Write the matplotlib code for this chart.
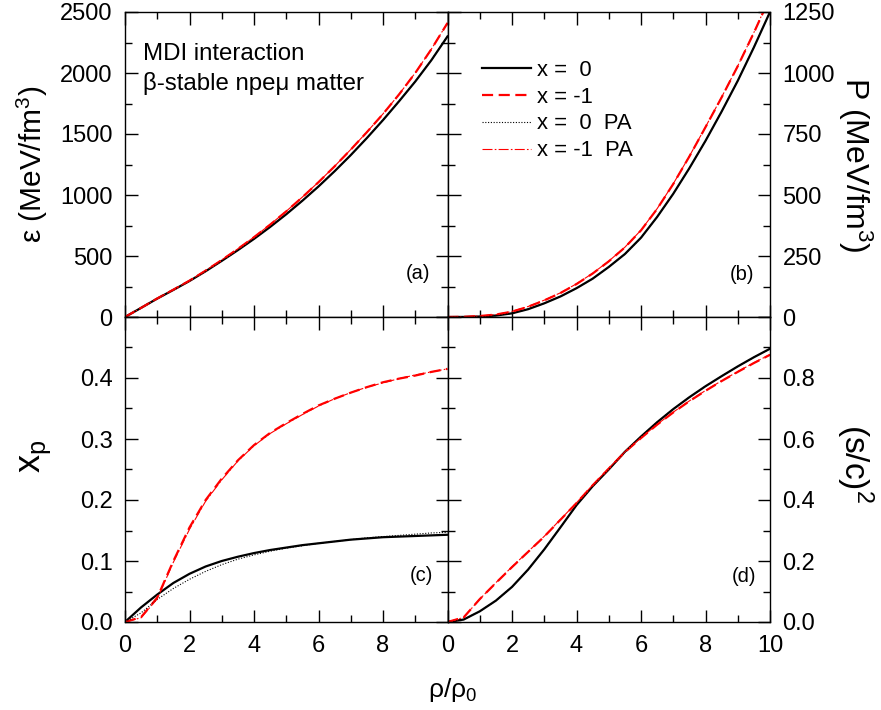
import matplotlib
matplotlib.use('Agg')
import matplotlib.pyplot as plt
from matplotlib.ticker import MultipleLocator

plt.rcParams['font.family'] = ['Liberation Sans', 'DejaVu Sans']
plt.rcParams['mathtext.fontset'] = 'custom'
plt.rcParams['mathtext.rm'] = 'Liberation Sans'
plt.rcParams['mathtext.it'] = 'Liberation Sans:italic'

# density grid rho/rho0
rho = [0, 0.5, 1, 1.5, 2, 2.5, 3, 3.5, 4, 4.5, 5, 5.5, 6, 6.5, 7, 7.5, 8, 8.5, 9, 9.5, 10]

# (a) energy density (MeV/fm^3)
eps_x0 = [0, 75, 151, 222, 295, 375, 460, 548, 640, 738, 842, 953, 1070, 1195, 1327,
          1467, 1614, 1769, 1930, 2105, 2300]
eps_xm1 = [0, 75, 152, 224, 298, 380, 467, 558, 654, 757, 866, 982, 1105, 1235, 1372,
           1515, 1664, 1825, 2000, 2195, 2410]
eps_x0_pa = [0, 75, 151, 222, 295, 375, 460, 548, 641, 739, 843, 954, 1071, 1196, 1328,
             1468, 1615, 1770, 1931, 2106, 2301]
eps_xm1_pa = [0, 75, 152, 224, 298, 381, 468, 559, 655, 758, 867, 983, 1106, 1236, 1373,
              1516, 1665, 1826, 2001, 2196, 2411]

# (b) pressure (MeV/fm^3)
p_x0 = [0, 0.3, 2, 6, 15, 32, 56, 84, 118, 157, 205, 258, 325, 410, 505, 610, 722,
        842, 968, 1105, 1250]
p_xm1 = [0, 0.8, 4, 10, 22, 42, 68, 98, 135, 178, 228, 285, 355, 443, 545, 658, 778,
         900, 1028, 1165, 1310]
p_x0_pa = [0, 0.3, 2, 6, 15, 32, 56, 84, 118, 157, 205, 258, 325, 410, 505, 610, 722,
           842, 969, 1106, 1251]
p_xm1_pa = [0, 0.8, 4, 10, 23, 43, 69, 99, 136, 179, 229, 286, 356, 444, 546, 659, 779,
            901, 1029, 1166, 1311]

# (c) proton fraction
xp_x0 = [0, 0.024, 0.045, 0.064, 0.079, 0.091, 0.1, 0.107, 0.113, 0.118, 0.122, 0.126,
         0.129, 0.132, 0.135, 0.137, 0.139, 0.14, 0.141, 0.142, 0.143]
xp_xm1 = [0, 0.008, 0.04, 0.1, 0.155, 0.2, 0.235, 0.265, 0.29, 0.31, 0.326, 0.341,
          0.355, 0.366, 0.376, 0.385, 0.393, 0.399, 0.404, 0.41, 0.415]
xp_x0_pa = [0, 0.015, 0.037, 0.055, 0.07, 0.083, 0.094, 0.103, 0.11, 0.116, 0.121,
            0.125, 0.129, 0.132, 0.135, 0.138, 0.14, 0.142, 0.144, 0.146, 0.147]
xp_xm1_pa = [0, 0.007, 0.038, 0.098, 0.152, 0.198, 0.233, 0.264, 0.289, 0.309, 0.325,
             0.34, 0.354, 0.366, 0.376, 0.385, 0.392, 0.399, 0.405, 0.41, 0.415]

# (d) squared sound speed
cs2_x0 = [0, 0.008, 0.035, 0.07, 0.115, 0.172, 0.238, 0.31, 0.383, 0.445, 0.5, 0.558,
          0.608, 0.655, 0.698, 0.737, 0.773, 0.806, 0.838, 0.868, 0.896]
cs2_xm1 = [0, 0.015, 0.075, 0.128, 0.18, 0.23, 0.28, 0.335, 0.39, 0.448, 0.503, 0.557,
           0.603, 0.647, 0.687, 0.724, 0.758, 0.79, 0.82, 0.849, 0.876]
cs2_x0_pa = [0, 0.008, 0.035, 0.07, 0.115, 0.172, 0.238, 0.31, 0.383, 0.445, 0.5,
             0.558, 0.608, 0.655, 0.698, 0.737, 0.773, 0.806, 0.838, 0.868, 0.896]
cs2_xm1_pa = [0, 0.015, 0.075, 0.129, 0.181, 0.231, 0.281, 0.336, 0.391, 0.449, 0.504,
              0.558, 0.604, 0.648, 0.688, 0.725, 0.759, 0.791, 0.821, 0.85, 0.877]

labels = ['x =  0', 'x = -1', 'x =  0  PA', 'x = -1  PA']


def draw(ax, a, b, c, d):
    ax.plot(rho, a, color='black', lw=1.6, label=labels[0])
    ax.plot(rho, b, color='red', lw=1.6, dashes=(5, 2.5), label=labels[1])
    ax.plot(rho, c, color='black', lw=0.8, dashes=(1, 1.5), label=labels[2])
    ax.plot(rho, d, color='red', lw=0.8, dashes=(9, 2, 1.5, 2), label=labels[3])


def style(ax, ymax, major, minor, right=False):
    ax.set_xlim(0, 10)
    ax.set_ylim(0, ymax)
    ax.xaxis.set_major_locator(MultipleLocator(2))
    ax.xaxis.set_minor_locator(MultipleLocator(1))
    ax.yaxis.set_major_locator(MultipleLocator(major))
    ax.yaxis.set_minor_locator(MultipleLocator(minor))
    ax.tick_params(which='both', direction='in', top=True, bottom=True,
                   left=True, right=True, width=1, labelsize=17, pad=9)
    ax.tick_params(which='major', length=9)
    ax.tick_params(which='minor', length=5)
    if right:
        ax.yaxis.set_label_position('right')
        ax.tick_params(labelleft=False, labelright=True)
    for s in ax.spines.values():
        s.set_linewidth(1)


fig = plt.figure(figsize=(8.81, 7.10), dpi=100)
L, M, R = 125 / 881, 447.5 / 881, 771.5 / 881
T, Mid, B = 1 - 12 / 710, 1 - 317 / 710, 1 - 622 / 710
w, h = M - L, T - Mid

ax_a = fig.add_axes([L, Mid, w, h])
ax_b = fig.add_axes([M, Mid, w, h])
ax_c = fig.add_axes([L, B, w, h])
ax_d = fig.add_axes([M, B, w, h])

# (a)
draw(ax_a, eps_x0, eps_xm1, eps_x0_pa, eps_xm1_pa)
style(ax_a, 2500, 500, 250)
ax_a.tick_params(labelbottom=False)
ax_a.set_ylabel('ε (MeV/fm$^3$)', fontsize=21.5)
ax_a.yaxis.set_label_coords(-0.233, 0.5)
ax_a.text(0.056, 0.8436, 'MDI interaction', transform=ax_a.transAxes,
          fontsize=17.3, va='baseline')
ax_a.text(0.056, 0.745, 'β-stable npeμ matter', transform=ax_a.transAxes,
          fontsize=17.3, va='baseline')
ax_a.text(0.907, 0.141, '(a)', transform=ax_a.transAxes, fontsize=14.5,
          ha='center', va='center')

# (b)
draw(ax_b, p_x0, p_xm1, p_x0_pa, p_xm1_pa)
style(ax_b, 1250, 250, 125, right=True)
ax_b.tick_params(labelbottom=False)
ax_b.set_ylabel('P (MeV/fm$^3$)', fontsize=23, rotation=270, va='bottom')
ax_b.yaxis.set_label_coords(1.205, 0.5)
ax_b.legend(loc='upper left', bbox_to_anchor=(0.1085, 0.844), frameon=False,
            fontsize=15.8, handlelength=2.2, handletextpad=0.3,
            labelspacing=0.27, borderpad=0, borderaxespad=0)
ax_b.text(0.912, 0.139, '(b)', transform=ax_b.transAxes, fontsize=14.5,
          ha='center', va='center')

# (c)
draw(ax_c, xp_x0, xp_xm1, xp_x0_pa, xp_xm1_pa)
style(ax_c, 0.5, 0.1, 0.05)
ax_c.set_xticks([0, 2, 4, 6, 8, 10])
ax_c.set_xticklabels(['0', '2', '4', '6', '8', ''])
ax_c.set_yticks([0, 0.1, 0.2, 0.3, 0.4, 0.5])
ax_c.set_yticklabels(['0.0', '0.1', '0.2', '0.3', '0.4', ''])
ax_c.set_ylabel('x$_{\\rm p}$', fontsize=26)
ax_c.yaxis.set_label_coords(-0.223, 0.544)
ax_c.text(0.918, 0.151, '(c)', transform=ax_c.transAxes, fontsize=14.5,
          ha='center', va='center')

# (d)
draw(ax_d, cs2_x0, cs2_xm1, cs2_x0_pa, cs2_xm1_pa)
style(ax_d, 1.0, 0.2, 0.1, right=True)
ax_d.set_yticks([0, 0.2, 0.4, 0.6, 0.8, 1.0])
ax_d.set_yticklabels(['0.0', '0.2', '0.4', '0.6', '0.8', ''])
ax_d.set_ylabel('(s/c)$^2$', fontsize=24, rotation=270, va='bottom')
ax_d.yaxis.set_label_coords(1.2, 0.52)
ax_d.text(0.92, 0.148, '(d)', transform=ax_d.transAxes, fontsize=14.5,
          ha='center', va='center')

fig.text(453 / 881, 1 - 690 / 710, 'ρ/ρ$_0$', fontsize=19, ha='center', va='center')

fig.savefig('out.png', dpi=100)
